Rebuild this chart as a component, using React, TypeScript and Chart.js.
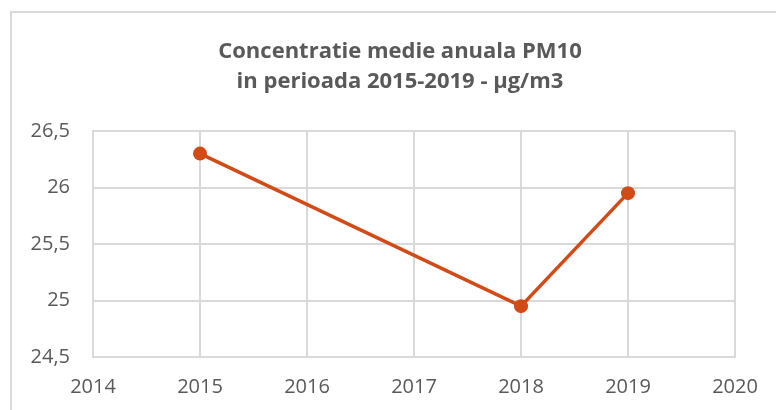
import React, { useEffect, useRef } from "react";
import { Chart, registerables } from "chart.js";

Chart.register(...registerables);

const titleLines = ["Concentratie medie anuala PM10", "in perioada 2015-2019 - µg/m3"];
const years = [2015, 2018, 2019];
const values = [26.3, 24.95, 25.95];
const xMin = 2014;
const xMax = 2020;
const yMin = 24.5;
const yMax = 26.5;
const yStep = 0.5;

const FONT = "'Open Sans', Lato, sans-serif";
const TEXT = "#595959";
const GRID = "#D9D9D9";
const LINE = "#D24B17";

const frameAndTitle = {
  id: "frameAndTitle",
  beforeDraw(chart: any) {
    const ctx = chart.ctx;
    ctx.save();
    ctx.fillStyle = "#ffffff";
    ctx.fillRect(0, 0, chart.width, chart.height);
    ctx.strokeStyle = GRID;
    ctx.lineWidth = 2;
    ctx.strokeRect(11, 12, chart.width + 50, chart.height + 50);
    ctx.fillStyle = TEXT;
    ctx.font = `bold 22px ${FONT}`;
    ctx.textAlign = "center";
    ctx.textBaseline = "alphabetic";
    titleLines.forEach((t, i) => ctx.fillText(t, 400, 58 + i * 30));
    ctx.restore();
  },
};

export default function App() {
  const ref = useRef<HTMLCanvasElement>(null);
  useEffect(() => {
    document.body.style.margin = "0";
    const chart = new Chart(ref.current!, {
      type: "line",
      data: {
        datasets: [
          {
            data: years.map((x, i) => ({ x, y: values[i] })),
            borderColor: LINE,
            backgroundColor: LINE,
            borderWidth: 3.5,
            pointRadius: 7,
            pointBorderWidth: 0,
            pointBackgroundColor: LINE,
            tension: 0,
          },
        ],
      },
      options: {
        animation: false,
        responsive: false,
        maintainAspectRatio: false,
        layout: { padding: { top: 131, right: 41, left: 0, bottom: 0 } },
        plugins: {
          legend: { display: false },
          title: { display: false },
          tooltip: { enabled: false },
        },
        scales: {
          x: {
            type: "linear",
            min: xMin,
            max: xMax,
            afterFit: (s: any) => {
              s.height = 53;
            },
            ticks: {
              stepSize: 1,
              padding: 18,
              color: TEXT,
              font: { family: FONT, size: 20 },
              callback: (v: any) => String(v),
            },
            grid: { color: GRID, lineWidth: 2, drawTicks: false },
            border: { color: GRID, width: 2 },
          },
          y: {
            min: yMin,
            max: yMax,
            afterFit: (s: any) => {
              s.width = 93;
            },
            ticks: {
              stepSize: yStep,
              padding: 23,
              color: TEXT,
              font: { family: FONT, size: 20 },
              callback: (v: any) => String(v).replace(".", ","),
            },
            grid: { color: GRID, lineWidth: 2, drawTicks: false },
            border: { color: GRID, width: 2 },
          },
        },
      },
      plugins: [frameAndTitle],
    });
    return () => chart.destroy();
  }, []);
  return (
    <div style={{ position: "fixed", left: 0, top: 0, width: 776, height: 410, overflow: "hidden", background: "#fff" }}>
      <canvas ref={ref} width={776} height={410} style={{ width: 776, height: 410, display: "block" }} />
    </div>
  );
}
